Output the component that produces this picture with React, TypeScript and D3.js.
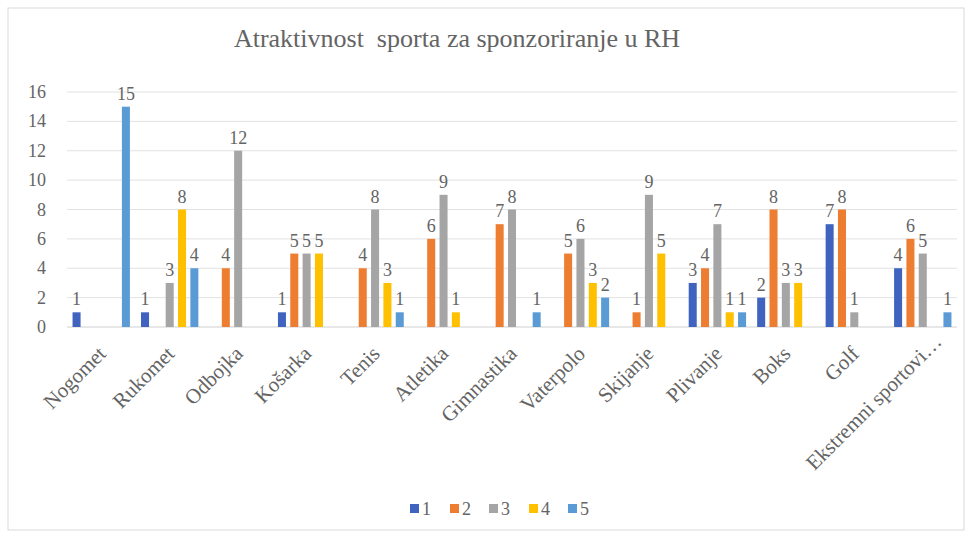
import React from "react";
import * as d3 from "d3";

const categories = ["Nogomet","Rukomet","Odbojka","Košarka","Tenis","Atletika","Gimnastika","Vaterpolo","Skijanje","Plivanje","Boks","Golf","Ekstremni sportovi…"];
const seriesNames = ["1","2","3","4","5"];
const s1 = [1,1,null,1,null,null,null,null,null,3,2,7,4];
const s2 = [null,null,4,5,4,6,7,5,1,4,8,8,6];
const s3 = [null,3,12,5,8,9,8,6,9,7,3,1,5];
const s4 = [null,8,null,5,3,1,null,3,5,1,3,null,null];
const s5 = [15,4,null,null,1,null,1,2,null,1,null,null,1];
const seriesValues = [s1,s2,s3,s4,s5];
const colors = ["#3F63BF","#ED7D31","#A5A5A5","#FFC000","#5B9BD5"];
const yTicks = [0,2,4,6,8,10,12,14,16];
const title = "Atraktivnost  sporta za sponzoriranje u RH";

const W = 973, H = 538;
const left = 67, right = 957, top = 92, bottom = 327;
const font = "Liberation Serif, Times New Roman, serif";
const textColor = "#646464";

export default function App() {
  const x = d3.scaleBand<string>().domain(categories).range([left, right]).paddingInner(0).paddingOuter(0);
  const inner = d3.scaleBand<string>().domain(seriesNames).range([0, x.bandwidth()]).paddingInner(0.35).paddingOuter(0.45);
  const y = d3.scaleLinear().domain([0, 16]).range([bottom, top]);
  const legendX = [410, 450, 489, 529, 568];
  return (
    <svg width={W} height={H} style={{position: "absolute", left: 0, top: 0, background: "#fff", fontFamily: font}}>
      <rect x={8} y={8} width={956} height={522} fill="#fff" stroke="#d9d9d9" strokeWidth={1} />
      <text x={457} y={47} textAnchor="middle" style={{fontFamily: font, whiteSpace: "pre"}} fontSize={26} fill={textColor}>{title}</text>
      {yTicks.map(t => (
        <g key={t}>
          <line x1={left} x2={right} y1={y(t)} y2={y(t)} stroke={t === 0 ? "#d0d0d0" : "#e2e2e2"} strokeWidth={1} />
          <text x={46} y={y(t) + 6} textAnchor="end" style={{fontFamily: font}} fontSize={18} fill={textColor}>{t}</text>
        </g>
      ))}
      {seriesValues.map((vals, si) => (
        <g key={si}>
          {vals.map((v, ci) => {
            if (v == null) return null;
            const bx = (x(categories[ci]) as number) + (inner(seriesNames[si]) as number);
            const bw = inner.bandwidth();
            return (
              <g key={ci}>
                <rect x={bx} y={y(v)} width={bw} height={y(0) - y(v)} fill={colors[si]} />
                <text x={bx + bw / 2} y={y(v) - 7} textAnchor="middle" style={{fontFamily: font}} fontSize={18} fill={textColor}>{v}</text>
              </g>
            );
          })}
        </g>
      ))}
      {categories.map((c, i) => {
        const cx = (x(c) as number) + x.bandwidth() / 2;
        const last = i === categories.length - 1;
        const ax = cx + (last ? 20 : 6);
        const ay = bottom + (last ? 16 : 28);
        return (
          <text key={c} transform={`translate(${ax},${ay}) rotate(-45)`} textAnchor="end" style={{fontFamily: font}} fontSize={21} fill={textColor}>{c}</text>
        );
      })}
      {seriesNames.map((n, i) => (
        <g key={n}>
          <rect x={legendX[i]} y={504} width={9} height={9} fill={colors[i]} />
          <text x={legendX[i] + 12} y={515} style={{fontFamily: font}} fontSize={18} fill={textColor}>{n}</text>
        </g>
      ))}
    </svg>
  );
}
